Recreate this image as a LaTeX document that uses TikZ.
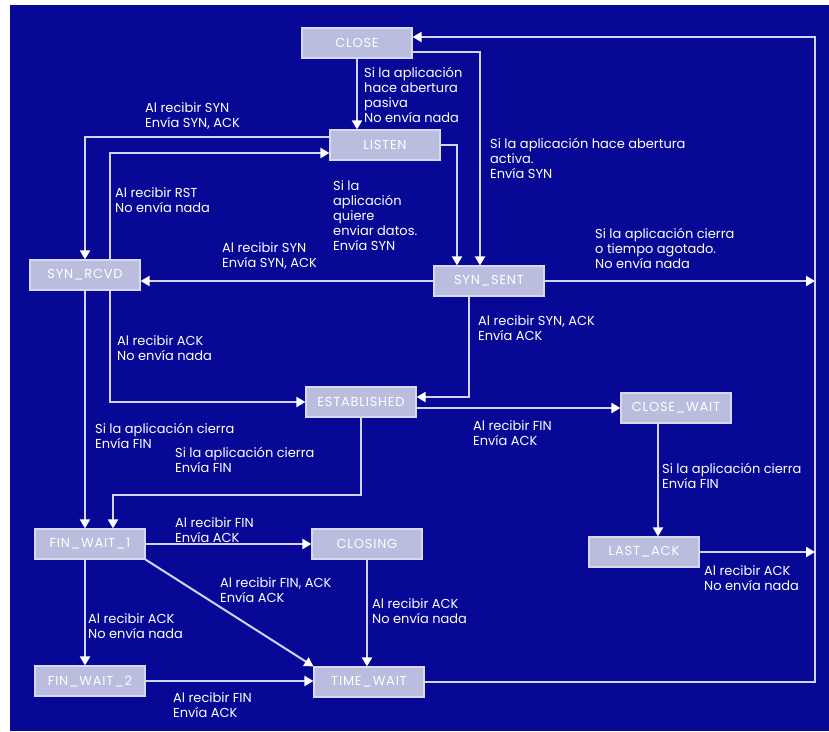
\documentclass[tikz,border=0pt]{standalone}
\usepackage{fontspec}
\setmainfont{Poppins}
\newfontfamily\boxfont{Poppins}[LetterSpace=6]
\usetikzlibrary{arrows.meta, calc}
\definecolor{fondo}{RGB}{8,8,150}
\definecolor{caja}{RGB}{186,189,222}
\definecolor{borde}{RGB}{214,217,240}
\definecolor{linea}{RGB}{210,210,245}
\tikzset{
  tcpstate/.style={
    rectangle,
    fill=caja,
    draw=borde,
    line width=1.2pt,
    minimum width=110pt,
    minimum height=30pt,
    inner sep=0pt,
    font=\boxfont\fontsize{13}{15}\selectfont,
    text=white
  },
  trans/.style={
    -{Triangle[width=10pt,length=9pt,color=white]},
    line width=2pt,
    color=linea
  },
  lbl/.style={
    anchor=north west,
    align=left,
    inner sep=0pt,
    text=white,
    font=\fontsize{13}{15}\selectfont
  }
}

\begin{document}
\begin{tikzpicture}[x=1pt, y=-1pt]
    % 1 unidad = 1 pixel del original, y hacia abajo
    \useasboundingbox (0,0) rectangle (829,731);

    % fondo
    \fill[white] (0,0) rectangle (829,731);
    \fill[fondo] (10,5) rectangle (829,731);

    % estados
    \node[tcpstate] (close) at (357,43) {CLOSE};
    \node[tcpstate] (listen) at (385,145) {LISTEN};
    \node[tcpstate] (synrcvd) at (85,275) {SYN\_RCVD};
    \node[tcpstate] (synsent) at (489,281) {SYN\_SENT};
    \node[tcpstate] (estab) at (361,402) {ESTABLISHED};
    \node[tcpstate] (closewait) at (676,408) {CLOSE\_WAIT};
    \node[tcpstate] (finwait1) at (90,544) {FIN\_WAIT\_1};
    \node[tcpstate] (closing) at (367,544) {CLOSING};
    \node[tcpstate] (lastack) at (644,552) {LAST\_ACK};
    \node[tcpstate] (finwait2) at (90,681) {FIN\_WAIT\_2};
    \node[tcpstate] (timewait) at (369,682) {TIME\_WAIT};

    % puntos de apoyo
    \coordinate (rail) at (815,0);
    \coordinate (c0) at ($(close.east)+(0,-6)$);
    \coordinate (c1) at ($(close.east)+(0,9)$);
    \coordinate (s1) at ($(synsent.north)+(-9,0)$);
    \coordinate (s2) at ($(synsent.north)+(-32,0)$);
    \coordinate (e1) at ($(estab.south)+(0,77)$);
    \coordinate (cw) at ($(closewait.south)+(-18,0)$);

    % apertura
    \draw[trans] (close.south) -- (close.south |- listen.north);
    \draw[trans] (c1) -| (s1);
    \draw[trans] (listen.east) -| (s2);
    \draw[trans] ($(listen.west)+(0,-8)$) -| (synrcvd.north);
    \draw[trans] ($(synrcvd.north)+(25,0)$) |- ($(listen.west)+(0,8)$);
    \draw[trans] (synsent.west) -- (synsent.west -| synrcvd.east);
    \draw[trans] (synsent.east) -- (synsent.east -| rail);
    \draw[trans] ($(synrcvd.south)+(25,0)$) |- (estab.west);
    \draw[trans] ($(synsent.south)+(-20,0)$) |- ($(estab.east)+(0,-5)$);

    % cierre
    \draw[trans] (estab.east |- closewait.west) -- (closewait.west);
    \draw[trans] (synrcvd.south) -- (synrcvd.south |- finwait1.north);
    \draw[trans] (estab.south) -- (e1) -| ($(finwait1.north)+(23,0)$);
    \draw[trans] (cw) -- (cw |- lastack.north);
    \draw[trans] (lastack.east) -- (lastack.east -| rail);
    \draw[trans] (finwait1.east) -- (closing.west);
    \draw[trans] (finwait1.south east) -- (timewait.north west);
    \draw[trans] (closing.south) -- (closing.south |- timewait.north);
    \draw[trans] (finwait1.south -| synrcvd.south) -- (finwait2.north -| synrcvd.south);
    \draw[trans] (finwait2.east) -- (finwait2.east -| timewait.west);
    \draw[trans] (timewait.east) -- (timewait.east -| rail) -- (rail |- c0) -- (c0);

    % etiquetas
    \node[lbl] (l1) at (364,67) {Si la aplicación\\hace abertura\\pasiva\\No envía nada};
    \node[lbl] (l2) at (490,138) {Si la aplicación hace abertura\\activa.\\Envía SYN};
    \node[lbl] (l3) at (333,180) {Si la\\aplicación\\quiere\\enviar datos.\\Envía SYN};
    \node[lbl] (l4) at (145,102) {Al recibir SYN\\Envía SYN, ACK};
    \node[lbl] (l5) at (115,187) {Al recibir RST\\No envía nada};
    \node[lbl] (l6) at (222,242) {Al recibir SYN\\Envía SYN, ACK};
    \node[lbl] (l7) at (595,228) {Si la aplicación cierra\\o tiempo agotado.\\No envía nada};
    \node[lbl] (l8) at (117,335) {Al recibir ACK\\No envía nada};
    \node[lbl] (l9) at (478,315) {Al recibir SYN, ACK\\Envía ACK};
    \node[lbl] (l10) at (473,420) {Al recibir FIN\\Envía ACK};
    \node[lbl] (l11) at (95,423) {Si la aplicación cierra\\Envía FIN};
    \node[lbl] (l12) at (175,447) {Si la aplicación cierra\\Envía FIN};
    \node[lbl] (l13) at (662,463) {Si la aplicación cierra\\Envía FIN};
    \node[lbl] (l14) at (704,565) {Al recibir ACK\\No envía nada};
    \node[lbl] (l15) at (175,517) {Al recibir FIN\\Envía ACK};
    \node[lbl] (l16) at (220,577) {Al recibir FIN, ACK\\Envía ACK};
    \node[lbl] (l17) at (372,598) {Al recibir ACK\\No envía nada};
    \node[lbl] (l18) at (88,613) {Al recibir ACK\\No envía nada};
    \node[lbl] (l19) at (173,692) {Al recibir FIN\\Envía ACK};
\end{tikzpicture}
\end{document}
